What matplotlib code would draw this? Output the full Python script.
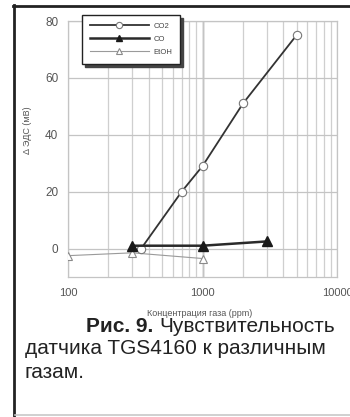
import matplotlib
matplotlib.use("Agg")
import matplotlib.pyplot as plt
from matplotlib.lines import Line2D
from matplotlib.ticker import LogLocator, FixedLocator, NullFormatter

plt.rcParams['font.family'] = ['Liberation Sans', 'DejaVu Sans']

# Sensor response (mV) vs gas concentration (ppm)
co2_ppm = [350, 700, 1000, 2000, 5000]
co2_mv = [0, 20, 29, 51, 75]
co_ppm = [300, 1000, 3000]
co_mv = [1, 1, 2.5]
etoh_ppm = [100, 300, 1000]
etoh_mv = [-2.5, -1.5, -3.5]

series_labels = ["CO2", "CO", "EtOH"]
y_ticks = [0, 20, 40, 60, 80]
x_ticks = [100, 1000, 10000]
x_tick_labels = ["100", "1000", "10000"]

W, H = 350, 417
fig = plt.figure(figsize=(W / 100, H / 100), dpi=100)
fig.patch.set_facecolor("white")

# page frame
fig.add_artist(Line2D([14 / W, 14 / W], [0, 1 - 5 / H], transform=fig.transFigure,
                      color="#222222", lw=2.0))
fig.add_artist(Line2D([13 / W, 1], [1 - 6 / H, 1 - 6 / H], transform=fig.transFigure,
                      color="#222222", lw=2.0))
fig.add_artist(Line2D([15 / W, 1], [2 / H, 2 / H], transform=fig.transFigure,
                      color="#c8c8c8", lw=1.2))

ax = fig.add_axes([68 / W, (H - 277) / H, (337 - 68) / W, (277 - 21) / H])
ax.set_xscale("log")
ax.set_xlim(100, 10000)
ax.set_ylim(-10, 80)

ax.xaxis.set_major_locator(FixedLocator(x_ticks))
ax.set_xticklabels(x_tick_labels)
ax.xaxis.set_minor_locator(LogLocator(base=10, subs=range(2, 10)))
ax.xaxis.set_minor_formatter(NullFormatter())
ax.set_yticks(y_ticks)

ax.grid(True, which="major", color="#c4c4c4", lw=0.9)
ax.grid(True, which="minor", axis="x", color="#cfcfcf", lw=0.9)
ax.axvline(1000, color="#8a8a8a", lw=1.0, zorder=1)
for s in ax.spines.values():
    s.set_color("#c4c4c4")
    s.set_linewidth(0.9)

ax.tick_params(which="both", length=0, colors="#555555", labelsize=8.5)
ax.tick_params(axis="y", pad=7)
ax.tick_params(axis="x", pad=8, labelsize=8)
for lbl in ax.get_xticklabels() + ax.get_yticklabels():
    lbl.set_clip_on(False)

ax.plot(etoh_ppm, etoh_mv, color="#9a9a9a", lw=0.8, marker="^", ms=6,
        mfc="white", mec="#8a8a8a", mew=0.8, label=series_labels[2], zorder=3)
ax.plot(co2_ppm, co2_mv, color="#333333", lw=1.3, marker="o", ms=6,
        mfc="white", mec="#777777", mew=0.8, label=series_labels[0], zorder=4)
ax.plot(co_ppm, co_mv, color="#2a2a2a", lw=1.8, marker="^", ms=6.5,
        mfc="#1a1a1a", mec="#1a1a1a", label=series_labels[1], zorder=5)

handles, labels = ax.get_legend_handles_labels()
order = [1, 2, 0]
leg = fig.legend([handles[i] for i in order], [labels[i] for i in order],
                 loc="upper left", bbox_to_anchor=(82 / W, 1 - 15 / H),
                 borderaxespad=0, frameon=True, fancybox=False,
                 shadow={"color": "#444444", "alpha": 1.0},
                 edgecolor="#222222", fontsize=5.5, handlelength=7.8,
                 handletextpad=0.6, borderpad=1.0, labelspacing=0.75,
                 markerscale=0.75)
leg.get_frame().set_linewidth(1.0)
for t in leg.get_texts():
    t.set_color("#444444")

fig.text(27 / W, 1 - 130 / H, "Δ ЭДС (мВ)", rotation=90, ha="center", va="center",
         fontsize=6.5, color="#555555")
fig.text(200 / W, 1 - 313 / H, "Концентрация газа (ppm)", ha="center", va="center",
         fontsize=6.5, color="#555555")

# figure caption
cap_size = 15
cap_color = "#222222"
tail = fig.text(335 / W, 1 - 326 / H, "Чувствительность", ha="right", va="center",
                fontsize=cap_size, color=cap_color)
fig.canvas.draw()
tail_left = tail.get_window_extent().x0
fig.text((tail_left - 6) / W, 1 - 326 / H, "Рис. 9.", ha="right", va="center",
         fontsize=cap_size, fontweight="bold", color=cap_color)
fig.text(25 / W, 1 - 349 / H, "датчика TGS4160 к различным", ha="left", va="center",
         fontsize=cap_size, color=cap_color)
fig.text(25 / W, 1 - 372 / H, "газам.", ha="left", va="center",
         fontsize=cap_size, color=cap_color)

fig.savefig("out.png", dpi=100)
